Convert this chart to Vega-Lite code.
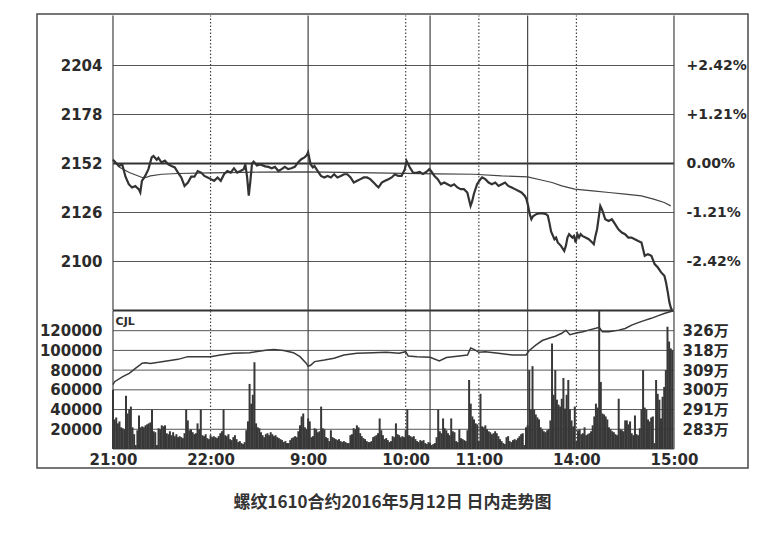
{
"$schema": "https://vega.github.io/schema/vega-lite/v6.json",
"width": 711, "height": 454,
"autosize": {"type": "none"},
"padding": {"left": 37, "top": 14, "right": 22, "bottom": 65},
"background": "white",
"config": {
  "view": {"stroke": "#4a4a4a", "strokeWidth": 1.5},
  "axis": {"labelFont": "DejaVu Sans, Noto Sans CJK SC", "labelFontWeight": "bold", "labelFontSize": 15, "labelColor": "#2b2b2b", "ticks": false, "domain": false, "grid": false}
},
"title": {"text": "螺纹1610合约2016年5月12日 日内走势图", "orient": "bottom", "frame": "group", "anchor": "middle", "offset": 27, "fontSize": 17, "font": "Noto Sans CJK SC", "fontWeight": "bold", "color": "#333333"},
"datasets": {
  "px": [
    {"t":0,"p":2154},{"t":1.6,"p":2152.5},{"t":3.6,"p":2150.7},{"t":5.7,"p":2151.5},{"t":7.7,"p":2145},{"t":9.7,"p":2141},{"t":11.7,"p":2139.3},{"t":13.7,"p":2140},{"t":15.8,"p":2138.4},{"t":16.8,"p":2136.6},{"t":17.8,"p":2142.8},{"t":19.8,"p":2145.4},{"t":21.8,"p":2149},{"t":23.8,"p":2155.2},{"t":24.9,"p":2156},{"t":26.9,"p":2154},{"t":27.9,"p":2155},{"t":29.9,"p":2152.5},{"t":31.9,"p":2153.5},{"t":34,"p":2151.6},{"t":36,"p":2150.7},{"t":38,"p":2149.9},{"t":40,"p":2147.2},{"t":42,"p":2144.6},{"t":44,"p":2140.1},{"t":46.1,"p":2141.9},{"t":48.1,"p":2145},{"t":50.1,"p":2145},{"t":52.1,"p":2148},{"t":54.2,"p":2147.2},{"t":56.2,"p":2145.4},{"t":58.2,"p":2144.6},{"t":60.2,"p":2143.7},{"t":62.2,"p":2142.8},{"t":64.3,"p":2144.6},{"t":66.3,"p":2142.8},{"t":68.3,"p":2146.3},{"t":70.3,"p":2148},{"t":72.4,"p":2147.2},{"t":74.4,"p":2149.5},{"t":76.4,"p":2147.2},{"t":78.4,"p":2148},{"t":80.4,"p":2149},{"t":81.4,"p":2151.5},{"t":82.5,"p":2144.6},{"t":83.5,"p":2135},{"t":84.5,"p":2142.8},{"t":85.5,"p":2152},{"t":86.5,"p":2153},{"t":88.5,"p":2151},{"t":90.6,"p":2151.5},{"t":93.6,"p":2150.5},{"t":95.6,"p":2150.2},{"t":97.6,"p":2149.5},{"t":99.6,"p":2150.2},{"t":101.7,"p":2148},{"t":103.7,"p":2149},{"t":105.7,"p":2150.2},{"t":107.7,"p":2149},{"t":109.7,"p":2149.5},{"t":111.8,"p":2150.2},{"t":113.8,"p":2152.5},{"t":115.8,"p":2154.3},{"t":117.8,"p":2155.2},{"t":119.2,"p":2156.5},{"t":120,"p":2158},{"t":121.5,"p":2151.6},{"t":122.9,"p":2149.9},{"t":123.9,"p":2150.7},{"t":125.9,"p":2148},{"t":127.9,"p":2145.4},{"t":129.9,"p":2144.6},{"t":132,"p":2145.4},{"t":134,"p":2144.6},{"t":136,"p":2146.3},{"t":138,"p":2144.6},{"t":140.1,"p":2145.4},{"t":142.1,"p":2146.3},{"t":144.1,"p":2146.3},{"t":146.1,"p":2144.6},{"t":148.1,"p":2141.9},{"t":150.2,"p":2142.8},{"t":152.2,"p":2143.7},{"t":154.2,"p":2144.6},{"t":156.2,"p":2144.6},{"t":158.2,"p":2143.7},{"t":160.3,"p":2141.9},{"t":162.3,"p":2140.1},{"t":163.3,"p":2139.3},{"t":165.3,"p":2141.9},{"t":167.3,"p":2142.8},{"t":169.4,"p":2143.7},{"t":171.4,"p":2144.6},{"t":173.4,"p":2146.3},{"t":175.4,"p":2145.4},{"t":177.5,"p":2145.4},{"t":179.5,"p":2149},{"t":180.5,"p":2153.4},{"t":182.5,"p":2150},{"t":184.5,"p":2147.2},{"t":186.6,"p":2147},{"t":188.6,"p":2147.5},{"t":190.6,"p":2146.5},{"t":192.6,"p":2147.5},{"t":194.6,"p":2149},{"t":195.6,"p":2148},{"t":197.7,"p":2145.4},{"t":199.7,"p":2143.7},{"t":201.7,"p":2141},{"t":203.7,"p":2141.9},{"t":205.7,"p":2141},{"t":207.8,"p":2140.1},{"t":209.8,"p":2141},{"t":211.8,"p":2139.3},{"t":213.8,"p":2138.4},{"t":215.8,"p":2138.4},{"t":217.9,"p":2136.6},{"t":218.9,"p":2133},{"t":219.9,"p":2129.5},{"t":220.9,"p":2132},{"t":221.9,"p":2135.7},{"t":223.9,"p":2141},{"t":226,"p":2143.7},{"t":227,"p":2144.6},{"t":229,"p":2143.7},{"t":231,"p":2141.9},{"t":233,"p":2141},{"t":235.1,"p":2141.9},{"t":237.1,"p":2140.1},{"t":239.1,"p":2141},{"t":241.1,"p":2141.9},{"t":243.1,"p":2140.1},{"t":245.2,"p":2139.3},{"t":247.2,"p":2138.4},{"t":249.2,"p":2137.5},{"t":251.2,"p":2136.6},{"t":253.3,"p":2134.8},{"t":254.3,"p":2133},{"t":255.3,"p":2129.5},{"t":256.3,"p":2125.1},{"t":257.3,"p":2122.4},{"t":258.3,"p":2124},{"t":260.3,"p":2125.1},{"t":262.4,"p":2125.6},{"t":264.4,"p":2125.5},{"t":266.4,"p":2125.1},{"t":267.4,"p":2124.3},{"t":268.4,"p":2120.5},{"t":269.4,"p":2116},{"t":271.5,"p":2111.8},{"t":272.5,"p":2112.7},{"t":273.5,"p":2110.1},{"t":275.5,"p":2108.3},{"t":277.5,"p":2105.6},{"t":278.5,"p":2108.3},{"t":279.5,"p":2112.7},{"t":280.5,"p":2114.5},{"t":282.5,"p":2112.7},{"t":283.5,"p":2113.6},{"t":284.5,"p":2110.1},{"t":285.6,"p":2114.5},{"t":286.6,"p":2112.7},{"t":287.6,"p":2114.5},{"t":288.6,"p":2113.6},{"t":290.6,"p":2112.7},{"t":292.6,"p":2111.8},{"t":294.7,"p":2110.1},{"t":295.7,"p":2109.2},{"t":296.7,"p":2113.6},{"t":297.7,"p":2117.1},{"t":298.7,"p":2123.3},{"t":299.7,"p":2129.5},{"t":300.7,"p":2127.7},{"t":301.7,"p":2125.1},{"t":302.7,"p":2122.4},{"t":304.8,"p":2121.5},{"t":306.8,"p":2122.4},{"t":308.8,"p":2119.8},{"t":310.8,"p":2117.1},{"t":312.9,"p":2115.4},{"t":314.9,"p":2114.5},{"t":316.9,"p":2112.7},{"t":318.9,"p":2112.7},{"t":320.9,"p":2111.8},{"t":323,"p":2110.9},{"t":325,"p":2110.1},{"t":326,"p":2106.5},{"t":327,"p":2103},{"t":329,"p":2103.9},{"t":331.1,"p":2103},{"t":333.1,"p":2098.6},{"t":335.1,"p":2096.8},{"t":337.1,"p":2094.2},{"t":339.1,"p":2092.4},{"t":340.1,"p":2088.9},{"t":341.2,"p":2083.6},{"t":342.2,"p":2078.2},{"t":343.2,"p":2075},{"t":344,"p":2074.5}
  ],
  "avg": [
    {"t":0,"a":2154},{"t":4,"a":2150},{"t":10,"a":2147.2},{"t":16,"a":2145.2},{"t":19,"a":2144.2},{"t":23,"a":2145.4},{"t":30,"a":2146.3},{"t":40,"a":2146.7},{"t":60,"a":2147},{"t":90,"a":2147.4},{"t":120,"a":2147.6},{"t":150,"a":2147.2},{"t":180,"a":2146.8},{"t":200,"a":2146.5},{"t":222,"a":2146.3},{"t":239,"a":2145.4},{"t":255,"a":2144.9},{"t":264,"a":2143.1},{"t":270,"a":2141.9},{"t":276,"a":2140.1},{"t":284,"a":2138.4},{"t":295,"a":2137.5},{"t":305,"a":2136.6},{"t":315,"a":2135.7},{"t":325,"a":2134.8},{"t":333,"a":2133},{"t":339,"a":2131.3},{"t":343,"a":2129.5}
  ],
  "oi": [
    {"t":0,"oi":3030000},{"t":1,"oi":3042500},{"t":6,"oi":3064500},{"t":10,"oi":3079500},{"t":14,"oi":3102000},{"t":18,"oi":3124000},{"t":20,"oi":3126000},{"t":23,"oi":3123000},{"t":28,"oi":3128000},{"t":34,"oi":3135000},{"t":40,"oi":3141000},{"t":46,"oi":3153000},{"t":54,"oi":3153000},{"t":60,"oi":3153000},{"t":66,"oi":3160000},{"t":74,"oi":3168000},{"t":84,"oi":3170500},{"t":95,"oi":3182000},{"t":99,"oi":3185000},{"t":105,"oi":3180000},{"t":111,"oi":3170500},{"t":115,"oi":3153000},{"t":118.8,"oi":3124000},{"t":120,"oi":3110000},{"t":121.5,"oi":3115000},{"t":124,"oi":3131000},{"t":130,"oi":3138000},{"t":136,"oi":3146000},{"t":142,"oi":3160000},{"t":150,"oi":3168000},{"t":160,"oi":3170000},{"t":168,"oi":3172000},{"t":176,"oi":3168000},{"t":180,"oi":3175000},{"t":181.5,"oi":3156000},{"t":187,"oi":3153000},{"t":195,"oi":3150000},{"t":200.7,"oi":3134000},{"t":205,"oi":3149000},{"t":213,"oi":3156000},{"t":218,"oi":3160000},{"t":220,"oi":3191000},{"t":222,"oi":3185000},{"t":225,"oi":3172000},{"t":229,"oi":3175000},{"t":237,"oi":3168000},{"t":246,"oi":3160000},{"t":254,"oi":3160000},{"t":256,"oi":3180000},{"t":260,"oi":3204000},{"t":264,"oi":3224000},{"t":268,"oi":3234000},{"t":272,"oi":3243000},{"t":276,"oi":3256000},{"t":278.5,"oi":3269000},{"t":281,"oi":3250000},{"t":285,"oi":3257000},{"t":289,"oi":3263000},{"t":293,"oi":3271000},{"t":297,"oi":3278000},{"t":299,"oi":3282000},{"t":301,"oi":3263000},{"t":305,"oi":3263000},{"t":311,"oi":3270000},{"t":315,"oi":3277000},{"t":319,"oi":3292000},{"t":323,"oi":3303000},{"t":327,"oi":3313000},{"t":331,"oi":3322000},{"t":335,"oi":3333000},{"t":339,"oi":3343000},{"t":342,"oi":3350000},{"t":344.5,"oi":3354000}
  ],
  "vol": [
    {"t":0,"v":60000},{"t":1,"v":30000},{"t":2,"v":32000},{"t":3,"v":26000},{"t":4,"v":28000},{"t":5,"v":22000},{"t":6,"v":21000},{"t":7,"v":20000},{"t":8,"v":54000},{"t":9,"v":36000},{"t":10,"v":40000},{"t":11,"v":43000},{"t":12,"v":22000},{"t":13,"v":15000},{"t":14,"v":4000},{"t":15,"v":19000},{"t":16,"v":34000},{"t":17,"v":22000},{"t":18,"v":23000},{"t":19,"v":22000},{"t":20,"v":24000},{"t":21,"v":25000},{"t":22,"v":26000},{"t":23,"v":27000},{"t":24,"v":40000},{"t":25,"v":18000},{"t":26,"v":17000},{"t":27,"v":4000},{"t":28,"v":21000},{"t":29,"v":20000},{"t":30,"v":24000},{"t":31,"v":23000},{"t":32,"v":24000},{"t":33,"v":16000},{"t":34,"v":15000},{"t":35,"v":18000},{"t":36,"v":14000},{"t":37,"v":17000},{"t":38,"v":13000},{"t":39,"v":15000},{"t":40,"v":12000},{"t":41,"v":13000},{"t":42,"v":12000},{"t":43,"v":11000},{"t":44,"v":16000},{"t":45,"v":40000},{"t":46,"v":29000},{"t":47,"v":19000},{"t":48,"v":20000},{"t":49,"v":17000},{"t":50,"v":15000},{"t":51,"v":16000},{"t":52,"v":26000},{"t":53,"v":20000},{"t":54,"v":40000},{"t":55,"v":14000},{"t":56,"v":13000},{"t":57,"v":15000},{"t":58,"v":11000},{"t":59,"v":10000},{"t":60,"v":14000},{"t":61,"v":12000},{"t":62,"v":13000},{"t":63,"v":12000},{"t":64,"v":11000},{"t":65,"v":13000},{"t":66,"v":16000},{"t":67,"v":18000},{"t":68,"v":40000},{"t":69,"v":14000},{"t":70,"v":13000},{"t":71,"v":15000},{"t":72,"v":10000},{"t":73,"v":9000},{"t":74,"v":12000},{"t":75,"v":14000},{"t":76,"v":10000},{"t":77,"v":7000},{"t":78,"v":8000},{"t":79,"v":6000},{"t":80,"v":5000},{"t":81,"v":7000},{"t":82,"v":19000},{"t":83,"v":28000},{"t":84,"v":66000},{"t":85,"v":46000},{"t":86,"v":55000},{"t":87,"v":88000},{"t":88,"v":26000},{"t":89,"v":22000},{"t":90,"v":21000},{"t":91,"v":17000},{"t":92,"v":14000},{"t":93,"v":12000},{"t":94,"v":15000},{"t":95,"v":16000},{"t":96,"v":14000},{"t":97,"v":17000},{"t":98,"v":15000},{"t":99,"v":13000},{"t":100,"v":14000},{"t":101,"v":12000},{"t":102,"v":11000},{"t":103,"v":10000},{"t":104,"v":9000},{"t":105,"v":7000},{"t":106,"v":8000},{"t":107,"v":6000},{"t":108,"v":6000},{"t":109,"v":9000},{"t":110,"v":11000},{"t":111,"v":12000},{"t":112,"v":13000},{"t":113,"v":12000},{"t":114,"v":18000},{"t":115,"v":24000},{"t":116,"v":33000},{"t":117,"v":36000},{"t":118,"v":22000},{"t":119,"v":20000},
    {"t":120,"v":31000},{"t":121,"v":28000},{"t":122,"v":12000},{"t":123,"v":13000},{"t":124,"v":21000},{"t":125,"v":20000},{"t":126,"v":17000},{"t":127,"v":18000},{"t":128,"v":43000},{"t":129,"v":21000},{"t":130,"v":20000},{"t":131,"v":12000},{"t":132,"v":11000},{"t":133,"v":8000},{"t":134,"v":19000},{"t":135,"v":12000},{"t":136,"v":11000},{"t":137,"v":10000},{"t":138,"v":9000},{"t":139,"v":10000},{"t":140,"v":8000},{"t":141,"v":7000},{"t":142,"v":8000},{"t":143,"v":7000},{"t":144,"v":6000},{"t":145,"v":6000},{"t":146,"v":14000},{"t":147,"v":15000},{"t":148,"v":21000},{"t":149,"v":20000},{"t":150,"v":24000},{"t":151,"v":22000},{"t":152,"v":16000},{"t":153,"v":13000},{"t":154,"v":11000},{"t":155,"v":10000},{"t":156,"v":8000},{"t":157,"v":7000},{"t":158,"v":7000},{"t":159,"v":8000},{"t":160,"v":12000},{"t":161,"v":13000},{"t":162,"v":14000},{"t":163,"v":16000},{"t":164,"v":31000},{"t":165,"v":19000},{"t":166,"v":14000},{"t":167,"v":10000},{"t":168,"v":11000},{"t":169,"v":9000},{"t":170,"v":7000},{"t":171,"v":8000},{"t":172,"v":13000},{"t":173,"v":12000},{"t":174,"v":26000},{"t":175,"v":15000},{"t":176,"v":14000},{"t":177,"v":12000},{"t":178,"v":13000},{"t":179,"v":12000},{"t":180,"v":19000},{"t":181,"v":40000},{"t":182,"v":14000},{"t":183,"v":13000},{"t":184,"v":12000},{"t":185,"v":13000},{"t":186,"v":10000},{"t":187,"v":8000},{"t":188,"v":7000},{"t":189,"v":9000},{"t":190,"v":8000},{"t":191,"v":9000},{"t":192,"v":6000},{"t":193,"v":5000},{"t":194,"v":7000},{"t":195,"v":6000},{"t":196,"v":4000},{"t":197,"v":5000},{"t":198,"v":6000},{"t":199,"v":12000},{"t":200,"v":40000},{"t":201,"v":18000},{"t":202,"v":16000},{"t":203,"v":31000},{"t":204,"v":21000},{"t":205,"v":19000},{"t":206,"v":16000},{"t":207,"v":14000},{"t":208,"v":31000},{"t":209,"v":18000},{"t":210,"v":17000},{"t":211,"v":8000},{"t":212,"v":7000},{"t":213,"v":20000},{"t":214,"v":11000},{"t":215,"v":10000},{"t":216,"v":9000},{"t":217,"v":8000},{"t":218,"v":19000},{"t":219,"v":70000},{"t":220,"v":46000},{"t":221,"v":33000},{"t":222,"v":30000},{"t":223,"v":26000},{"t":224,"v":25000},{"t":225,"v":8000},{"t":226,"v":56000},{"t":227,"v":23000},{"t":228,"v":22000},{"t":229,"v":24000},{"t":230,"v":20000},{"t":231,"v":18000},{"t":232,"v":17000},{"t":233,"v":15000},{"t":234,"v":16000},
    {"t":235,"v":18000},{"t":236,"v":16000},{"t":237,"v":13000},{"t":238,"v":10000},{"t":239,"v":8000},{"t":240,"v":6000},{"t":241,"v":5000},{"t":242,"v":12000},{"t":243,"v":13000},{"t":244,"v":8000},{"t":245,"v":7000},{"t":246,"v":9000},{"t":247,"v":10000},{"t":248,"v":9000},{"t":249,"v":11000},{"t":250,"v":13000},{"t":251,"v":15000},{"t":252,"v":16000},{"t":253,"v":4000},{"t":254,"v":22000},{"t":255,"v":24000},{"t":256,"v":80000},{"t":257,"v":40000},{"t":258,"v":84000},{"t":259,"v":40000},{"t":260,"v":35000},{"t":261,"v":32000},{"t":262,"v":30000},{"t":263,"v":22000},{"t":264,"v":20000},{"t":265,"v":18000},{"t":266,"v":17000},{"t":267,"v":19000},{"t":268,"v":20000},{"t":269,"v":29000},{"t":270,"v":107000},{"t":271,"v":55000},{"t":272,"v":80000},{"t":273,"v":50000},{"t":274,"v":45000},{"t":275,"v":43000},{"t":276,"v":51000},{"t":277,"v":72000},{"t":278,"v":41000},{"t":279,"v":55000},{"t":280,"v":70000},{"t":281,"v":40000},{"t":282,"v":29000},{"t":283,"v":23000},{"t":284,"v":43000},{"t":285,"v":8000},{"t":286,"v":19000},{"t":287,"v":20000},{"t":288,"v":15000},{"t":289,"v":16000},{"t":290,"v":22000},{"t":291,"v":14000},{"t":292,"v":15000},{"t":293,"v":16000},{"t":294,"v":18000},{"t":295,"v":24000},{"t":296,"v":33000},{"t":297,"v":46000},{"t":298,"v":42000},{"t":299,"v":140000},{"t":300,"v":68000},{"t":301,"v":36000},{"t":302,"v":35000},{"t":303,"v":33000},{"t":304,"v":30000},{"t":305,"v":22000},{"t":306,"v":20000},{"t":307,"v":18000},{"t":308,"v":17000},{"t":309,"v":15000},{"t":310,"v":14000},{"t":311,"v":51000},{"t":312,"v":20000},{"t":313,"v":19000},{"t":314,"v":18000},{"t":315,"v":29000},{"t":316,"v":29000},{"t":317,"v":25000},{"t":318,"v":28000},{"t":319,"v":16000},{"t":320,"v":14000},{"t":321,"v":34000},{"t":322,"v":15000},{"t":323,"v":14000},{"t":324,"v":21000},{"t":325,"v":40000},{"t":326,"v":80000},{"t":327,"v":42000},{"t":328,"v":40000},{"t":329,"v":30000},{"t":330,"v":28000},{"t":331,"v":32000},{"t":332,"v":33000},{"t":333,"v":6000},{"t":334,"v":70000},{"t":335,"v":56000},{"t":336,"v":50000},{"t":337,"v":31000},{"t":338,"v":53000},{"t":339,"v":63000},{"t":340,"v":80000},{"t":341,"v":124000},{"t":342,"v":109000},{"t":343,"v":102000},{"t":344,"v":100000}
  ],
  "pgrid": [{"g":2100},{"g":2126},{"g":2178},{"g":2204}],
  "vgrid": [{"g":0},{"g":20000},{"g":40000},{"g":60000},{"g":80000},{"g":100000},{"g":120000}],
  "solid": [{"v":0},{"v":120},{"v":195},{"v":255},{"v":345}],
  "dotted": [{"v":60},{"v":180},{"v":225},{"v":285}]
},
"layer": [
  {"data": {"name": "pgrid"}, "mark": {"type": "rule", "color": "#555555", "strokeWidth": 1},
   "encoding": {"y": {"field": "g", "type": "quantitative", "scale": {"domain": [1990.42, 2231.33], "nice": false, "zero": false}, "axis": null},
                "x": {"datum": 0, "type": "quantitative", "scale": {"domain": [-43.655, 387.443], "nice": false, "zero": false},
                      "axis": {"orient": "bottom", "offset": -19, "values": [0, 60, 120, 180, 225, 285, 345], "labelPadding": 3, "labelFlush": false, "title": null,
                               "labelExpr": "datum.value==0?'21:00':datum.value==60?'22:00':datum.value==120?'9:00':datum.value==180?'10:00':datum.value==225?'11:00':datum.value==285?'14:00':'15:00'"}},
                "x2": {"datum": 345}}},
  {"data": {"values": [{}]}, "mark": {"type": "rule", "color": "#333333", "strokeWidth": 2.2},
   "encoding": {"y": {"datum": 2152, "type": "quantitative", "scale": {"domain": [1990.42, 2231.33], "nice": false, "zero": false}, "axis": null}, "x": {"datum": 0, "type": "quantitative"}, "x2": {"datum": 345}}},
  {"data": {"values": [{}]}, "mark": {"type": "rule", "color": "#333333", "strokeWidth": 2},
   "encoding": {"y": {"datum": 2074, "type": "quantitative", "scale": {"domain": [1990.42, 2231.33], "nice": false, "zero": false}, "axis": null}, "x": {"datum": 0, "type": "quantitative"}, "x2": {"datum": 345}}},
  {"data": {"name": "solid"}, "mark": {"type": "rule", "color": "#444444", "strokeWidth": 1.2},
   "encoding": {"x": {"field": "v", "type": "quantitative"}, "y": {"datum": 2074, "type": "quantitative", "scale": {"domain": [1990.42, 2231.33], "nice": false, "zero": false}, "axis": null}, "y2": {"datum": 2230.5}}},
  {"data": {"name": "dotted"}, "mark": {"type": "rule", "color": "#444444", "strokeWidth": 1.2, "strokeDash": [1.5, 2]},
   "encoding": {"x": {"field": "v", "type": "quantitative"}, "y": {"datum": 2074, "type": "quantitative", "scale": {"domain": [1990.42, 2231.33], "nice": false, "zero": false}, "axis": null}, "y2": {"datum": 2230.5}}},
  {"data": {"name": "vgrid"}, "mark": {"type": "rule", "color": "#555555", "strokeWidth": 1},
   "encoding": {"y": {"field": "g", "type": "quantitative", "scale": {"domain": [-19270, 441177], "nice": false, "zero": false}, "axis": null},
                "x": {"datum": 0, "type": "quantitative"}, "x2": {"datum": 345}}},
  {"data": {"name": "solid"}, "mark": {"type": "rule", "color": "#444444", "strokeWidth": 1.2},
   "encoding": {"x": {"field": "v", "type": "quantitative"}, "y": {"datum": 0, "type": "quantitative", "scale": {"domain": [-19270, 441177], "nice": false, "zero": false}, "axis": null}, "y2": {"datum": 140000}}},
  {"data": {"name": "dotted"}, "mark": {"type": "rule", "color": "#444444", "strokeWidth": 1.2, "strokeDash": [1.5, 2]},
   "encoding": {"x": {"field": "v", "type": "quantitative"}, "y": {"datum": 0, "type": "quantitative", "scale": {"domain": [-19270, 441177], "nice": false, "zero": false}, "axis": null}, "y2": {"datum": 140000}}},
  {"data": {"name": "vol"}, "mark": {"type": "bar", "color": "#383838", "size": 2},
   "encoding": {"x": {"field": "t", "type": "quantitative"},
                "y": {"field": "v", "type": "quantitative", "scale": {"domain": [-19270, 441177], "nice": false, "zero": false},
                      "axis": {"orient": "left", "offset": -72, "values": [20000, 40000, 60000, 80000, 100000, 120000], "labelPadding": 7, "title": null, "format": "d"}},
                "y2": {"datum": 0}}},
  {"data": {"values": [{}]}, "mark": {"type": "text", "text": "CJL", "font": "DejaVu Sans", "fontWeight": "bold", "fontSize": 11, "color": "#2b2b2b", "align": "left", "baseline": "top"},
   "encoding": {"x": {"datum": 1.6, "type": "quantitative"}, "y": {"datum": 134500, "type": "quantitative", "scale": {"domain": [-19270, 441177], "nice": false, "zero": false}, "axis": null}}},
  {"data": {"name": "oi"}, "mark": {"type": "line", "color": "#3a3a3a", "strokeWidth": 1.5},
   "encoding": {
     "x": {"field": "t", "type": "quantitative"},
     "y": {"field": "oi", "type": "quantitative", "scale": {"domain": [2661700, 4664600], "nice": false, "zero": false},
           "axis": {"orient": "right", "offset": -70, "values": [2832500, 2919500, 3006500, 3093500, 3180500, 3267500], "labelPadding": 4, "title": null,
                    "labelExpr": "floor(datum.value/10000)+'万'"}}}},
  {"data": {"name": "avg"}, "mark": {"type": "line", "color": "#444444", "strokeWidth": 1.2},
   "encoding": {
     "x": {"field": "t", "type": "quantitative"},
     "y": {"field": "a", "type": "quantitative", "scale": {"domain": [1990.42, 2231.33], "nice": false, "zero": false},
           "axis": {"orient": "right", "offset": -70, "values": [2100, 2126, 2152, 2178, 2204], "labelPadding": 8, "labelFontSize": 14, "title": null,
                    "labelExpr": "datum.value==2152?'0.00%':(datum.value<2152?'-':'+')+format(abs(datum.value-2152)/2152*100,'.2f')+'%'"}}}},
  {"data": {"name": "px"}, "mark": {"type": "line", "color": "#333333", "strokeWidth": 2.2, "clip": false},
   "encoding": {
     "x": {"field": "t", "type": "quantitative"},
     "y": {"field": "p", "type": "quantitative", "scale": {"domain": [1990.42, 2231.33], "nice": false, "zero": false},
           "axis": {"orient": "left", "offset": -72, "values": [2100, 2126, 2152, 2178, 2204], "labelPadding": 7, "title": null, "format": "d"}}}}
],
"resolve": {"scale": {"y": "independent"}, "axis": {"y": "independent"}}
}
